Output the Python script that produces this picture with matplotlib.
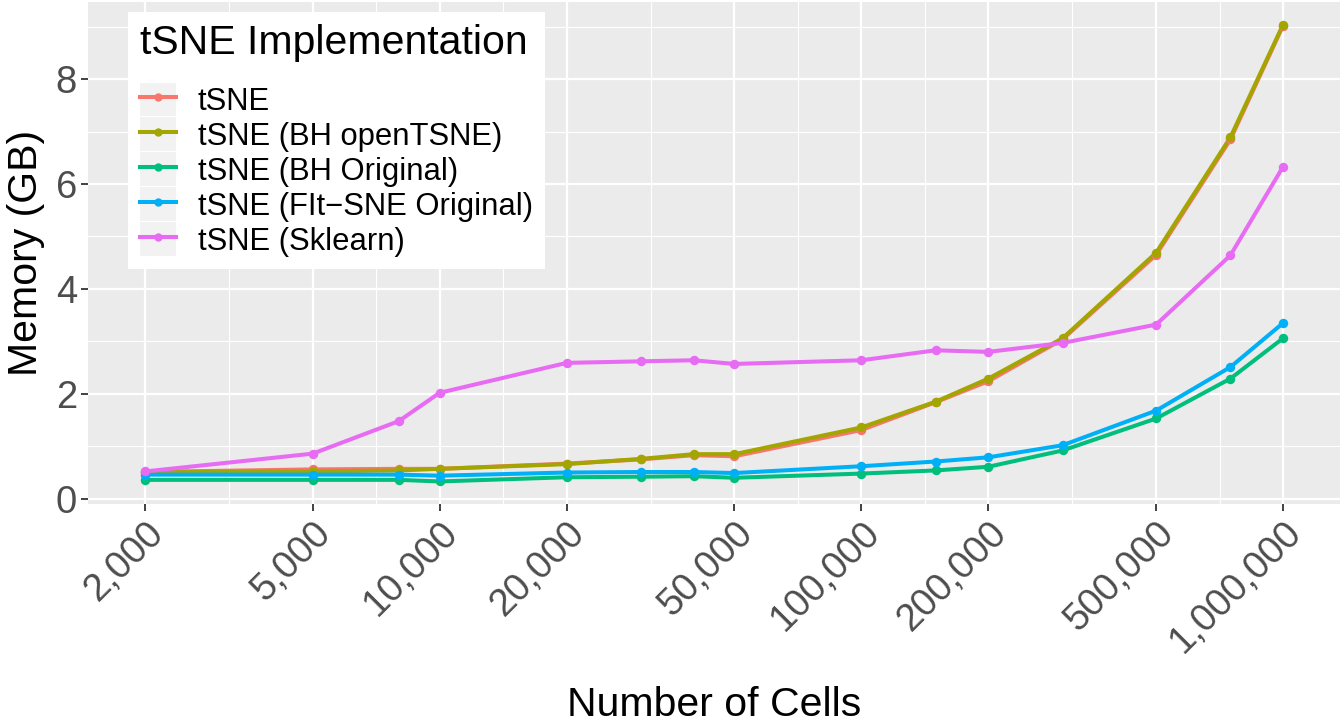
import numpy as np
import matplotlib
matplotlib.use("Agg")
import matplotlib.pyplot as plt
from matplotlib.ticker import FixedLocator, FuncFormatter
from matplotlib.legend_handler import HandlerLine2D
from matplotlib.patches import Rectangle
from matplotlib.lines import Line2D

plt.rcParams['font.family'] = ['Liberation Sans', 'DejaVu Sans']

# data
cells = [2000, 5000, 8000, 10000, 20000, 30000, 40000, 50000,
         100000, 150000, 200000, 300000, 500000, 750000, 1000000]
tsne = [0.51, 0.56, 0.57, 0.57, 0.67, 0.75, 0.83, 0.81,
        1.31, 1.84, 2.24, 3.04, 4.65, 6.85, 9.02]
bh_opentsne = [0.51, 0.52, 0.54, 0.57, 0.66, 0.76, 0.85, 0.85,
               1.36, 1.85, 2.29, 3.06, 4.69, 6.89, 9.04]
bh_original = [0.36, 0.36, 0.36, 0.33, 0.41, 0.42, 0.43, 0.40,
               0.48, 0.54, 0.61, 0.92, 1.53, 2.29, 3.06]
fitsne = [0.46, 0.46, 0.46, 0.44, 0.50, 0.51, 0.51, 0.49,
          0.62, 0.71, 0.79, 1.02, 1.68, 2.51, 3.35]
sklearn = [0.52, 0.86, 1.48, 2.02, 2.59, 2.62, 2.64, 2.57,
           2.64, 2.83, 2.80, 2.97, 3.32, 4.64, 6.33]

labels = ["tSNE", "tSNE (BH openTSNE)", "tSNE (BH Original)",
          "tSNE (FIt\u2212SNE Original)", "tSNE (Sklearn)"]
colors = ["#F8766D", "#A3A500", "#00BF7D", "#00B0F6", "#E76BF3"]
series = [tsne, bh_opentsne, bh_original, fitsne, sklearn]

x_breaks = [2000, 5000, 10000, 20000, 50000, 100000, 200000, 500000, 1000000]
y_breaks = [0, 2, 4, 6, 8]


class KeyHandler(HandlerLine2D):
    # grey key background like ggplot
    def create_artists(self, legend, orig_handle, xdescent, ydescent,
                       width, height, fontsize, trans):
        arts = super().create_artists(legend, orig_handle, xdescent, ydescent,
                                      width, height, fontsize, trans)
        pad = legend.labelspacing * fontsize / 2 + 0.6
        bg = Rectangle((-xdescent, -ydescent - pad), width, height + 2 * pad,
                       facecolor="#F2F2F2", edgecolor="none", transform=trans)
        return [bg] + arts


fig = plt.figure(figsize=(13.43, 7.28), dpi=100)
ax = fig.add_axes([88 / 1343, 1 - 504 / 728, 1252 / 1343, 502 / 728])
ax.set_facecolor("#EBEBEB")

for ys, lab, c in zip(series, labels, colors):
    ax.plot(cells, ys, color=c, lw=2.9, label=lab, zorder=3,
            solid_capstyle="butt")
for ys, c in zip(series, colors):
    ax.plot(cells, ys, 'o', color=c, ms=6.8, zorder=4, mec="none")

ax.set_xscale("log")
lo, hi = np.log10(x_breaks[0]), np.log10(x_breaks[-1])
ex = (hi - lo) * 0.05
ax.set_xlim(10 ** (lo - ex), 10 ** (hi + ex))
ax.set_ylim(-0.1, 9.47)

ax.xaxis.set_major_locator(FixedLocator(x_breaks))
minors = [np.sqrt(a * b) for a, b in zip(x_breaks[:-1], x_breaks[1:])]
ax.xaxis.set_minor_locator(FixedLocator(minors))
ax.xaxis.set_major_formatter(FuncFormatter(lambda v, p: f"{v:,.0f}"))
ax.xaxis.set_minor_formatter(FuncFormatter(lambda v, p: ""))
ax.yaxis.set_major_locator(FixedLocator(y_breaks))
ax.yaxis.set_minor_locator(FixedLocator([1, 3, 5, 7, 9]))

ax.grid(which="major", color="white", lw=1.6)
ax.grid(which="minor", color="white", lw=0.8)
ax.set_axisbelow(True)
for s in ax.spines.values():
    s.set_visible(False)

ax.tick_params(which="major", length=5, width=1.3, color="#333333",
               labelsize=27.5, labelcolor="#4D4D4D", pad=3)
ax.tick_params(which="minor", length=0)
for t in ax.get_xticklabels():
    t.set_rotation(45)
    t.set_ha("right")
    t.set_va("top")
    t.set_rotation_mode("anchor")

ax.set_xlabel("Number of Cells", fontsize=29.5, labelpad=18)
ax.set_ylabel("Memory (GB)", fontsize=29.5, labelpad=8)

keys = [Line2D([], [], color=c, lw=2.9, marker="o", ms=6, mec="none")
        for c in colors]
leg = ax.legend(keys, labels, title="tSNE Implementation",
                loc="upper left", bbox_to_anchor=(128 / 1343, 1 - 12 / 728),
                bbox_transform=fig.transFigure, borderaxespad=0,
                fontsize=22.3, title_fontsize=29.5, alignment="left",
                frameon=True, fancybox=False, framealpha=1,
                edgecolor="none", facecolor="white",
                handlelength=1.15, handleheight=1.1, handletextpad=0.7,
                labelspacing=0.08, borderpad=0.4,
                handler_map={Line2D: KeyHandler(numpoints=1, marker_pad=0)})
# more room between legend title and keys
leg._legend_box.sep = 16

fig.savefig("out.png", dpi=100)
